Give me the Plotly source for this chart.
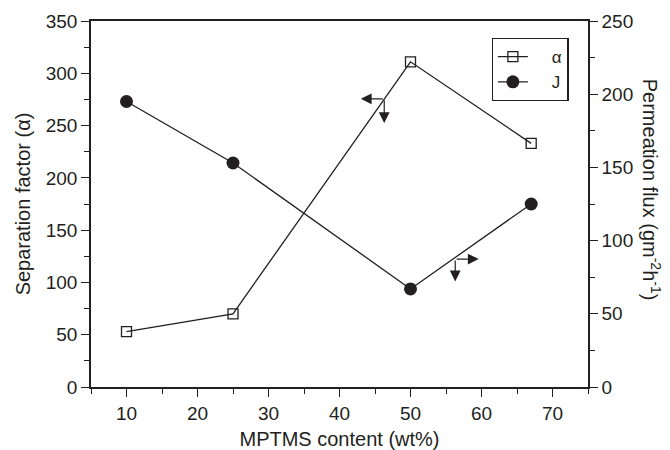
import plotly.graph_objects as go

# data
mptms = [10, 25, 50, 67]
alpha = [53, 70, 311, 233]
flux = [195, 153, 67, 125]

series_names = ["α", "J"]
x_title = "MPTMS content (wt%)"
y_title = "Separation factor (α)"
y2_title = "Permeation flux (gm<sup>-2</sup>h<sup>-1</sup>)"

FONT = "Liberation Sans, Arial, sans-serif"
INK = "#231f20"
TICK_SIZE = 19
TITLE_SIZE = 20
PAD = "\u00a0" * 4

fig = go.Figure()
fig.add_trace(go.Scatter(
    x=mptms, y=alpha, name=PAD + series_names[0], mode="lines+markers",
    line=dict(color=INK, width=1.3),
    marker=dict(symbol="square-open", size=10, color=INK, line=dict(width=1.3, color=INK)),
))
fig.add_trace(go.Scatter(
    x=mptms, y=flux, name=PAD + series_names[1], mode="lines+markers", yaxis="y2",
    line=dict(color=INK, width=1.3),
    marker=dict(symbol="circle", size=13, color=INK),
))

# direction arrows (which axis each curve belongs to), in left-axis data units
arrows = [
    # (corner_x, corner_y, horiz_end_x, vert_end_y)
    (46.3, 275.6, 43.0, 252.5),
    (56.3, 122.3, 59.6, 101.0),
]
for cx, cy, hx, vy in arrows:
    for hx_, hy_ in [(hx, cy), (cx, vy)]:
        fig.add_annotation(
            x=hx_, y=hy_, ax=cx, ay=cy, xref="x", yref="y", axref="x", ayref="y",
            text="", showarrow=True, arrowhead=2, arrowsize=1.8, arrowwidth=1.2,
            arrowcolor=INK, standoff=0, startstandoff=0,
        )

fig.add_annotation(
    text=y2_title, textangle=90, x=1.128, y=0.54, xref="paper", yref="paper",
    xanchor="center", yanchor="middle",
    showarrow=False, font=dict(family=FONT, size=TITLE_SIZE, color=INK),
)

axis_common = dict(
    showgrid=False, zeroline=False, showline=True, linecolor=INK, linewidth=1.5,
    ticks="outside", ticklen=8, tickwidth=1.3, tickcolor=INK,
    tickfont=dict(family=FONT, size=TICK_SIZE, color=INK), automargin=False,
)

fig.update_layout(
    width=670, height=450,
    margin=dict(l=91, r=82, t=21, b=63),
    paper_bgcolor="white", plot_bgcolor="white",
    font=dict(family=FONT, size=TICK_SIZE, color=INK),
    xaxis=dict(
        range=[5, 75], dtick=10, tick0=0, mirror=True,
        title=dict(text=x_title, font=dict(family=FONT, size=TITLE_SIZE, color=INK), standoff=12),
        minor=dict(dtick=5, tick0=0, ticks="outside", ticklen=5, tickwidth=1.3, tickcolor=INK),
        **axis_common,
    ),
    yaxis=dict(
        range=[0, 350], dtick=50,
        title=dict(text=y_title, font=dict(family=FONT, size=TITLE_SIZE, color=INK), standoff=10),
        minor=dict(dtick=25, ticks="outside", ticklen=5, tickwidth=1.3, tickcolor=INK),
        **axis_common,
    ),
    yaxis2=dict(
        range=[0, 250], dtick=50, overlaying="y", side="right",
        minor=dict(dtick=25, ticks="outside", ticklen=5, tickwidth=1.3, tickcolor=INK),
        **axis_common,
    ),
    showlegend=True,
    legend=dict(
        x=0.806, y=0.954, xanchor="left", yanchor="top",
        bgcolor="white", bordercolor=INK, borderwidth=1.3,
        font=dict(family=FONT, size=17, color=INK),
        itemwidth=30, tracegroupgap=0,
    ),
)

fig.write_html("out.html")
